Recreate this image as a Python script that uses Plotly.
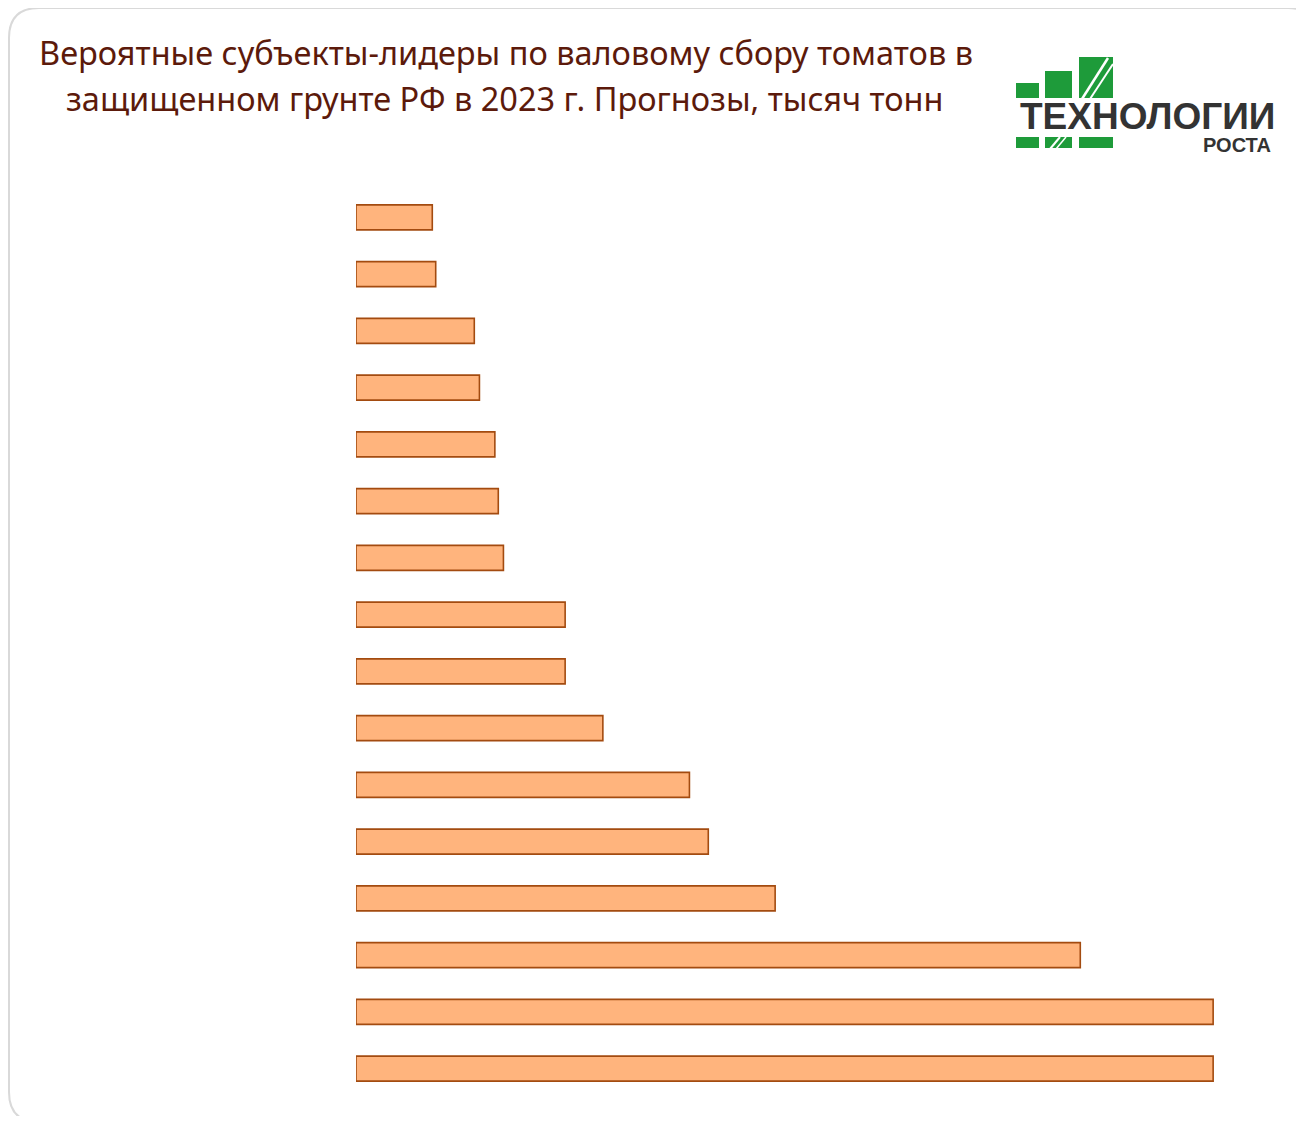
import plotly.graph_objects as go

# Data (regions are not labelled in the reference)
categories = [f"Субъект {i}" for i in range(1, 17)]
values = [8.9, 9.3, 13.8, 14.4, 16.2, 16.6, 17.2, 24.4, 24.4, 28.8, 38.9, 41.1, 48.9, 84.5, 100.0, 100.0]

title_line1 = "Вероятные субъекты-лидеры по валовому сбору томатов в"
title_line2 = "защищенном грунте РФ в 2023 г. Прогнозы, тысяч тонн"

OFF = 8  # page body margin
W, H = 1288, 1108
L, R, T, B = 356 - OFF, 40, 189 - OFF, 19
PW, PH = W - L - R, H - T - B


def px(x):
    return (x - OFF - L) / PW


def py(y):
    return (H - B - (y - OFF)) / PH


fig = go.Figure()
fig.add_trace(go.Bar(
    y=categories,
    x=values,
    orientation="h",
    marker=dict(color="#FFB47D", line=dict(color="#A34B10", width=1.6)),
    hoverinfo="x+y",
))

shapes = []
# rounded frame
x0, y0, x1, y1, r = 9, 8, 1318, 1122, 30
path = (
    f"M {px(x0 + r)},{py(y0)} L {px(x1 - r)},{py(y0)} "
    f"Q {px(x1)},{py(y0)} {px(x1)},{py(y0 + r)} "
    f"L {px(x1)},{py(y1 - r)} Q {px(x1)},{py(y1)} {px(x1 - r)},{py(y1)} "
    f"L {px(x0 + r)},{py(y1)} Q {px(x0)},{py(y1)} {px(x0)},{py(y1 - r)} "
    f"L {px(x0)},{py(y0 + r)} Q {px(x0)},{py(y0)} {px(x0 + r)},{py(y0)} Z"
)
shapes.append(dict(type="path", xref="paper", yref="paper", path=path,
                   line=dict(color="#D9D9D9", width=2), layer="below"))

green = "#1E9B3A"
logo_rects = [
    (1016, 83, 1039, 98),
    (1045, 71, 1072, 98),
    (1079, 57, 1113, 98),
    (1016, 137, 1039, 148),
    (1045, 137, 1072, 148),
    (1079, 137, 1113, 148),
]
for a, b_, c, d in logo_rects:
    shapes.append(dict(type="rect", xref="paper", yref="paper",
                       x0=px(a), x1=px(c), y0=py(d), y1=py(b_),
                       fillcolor=green, line=dict(width=0)))
# white diagonal stripes in logo
stripes = [
    ((1082, 99), (1108, 58), 2.5),
    ((1090, 99), (1113, 64), 2.0),
    ((1050, 149), (1060, 137), 2.0),
    ((1056, 149), (1066, 137), 1.5),
]
for (a, b_), (c, d), w in stripes:
    shapes.append(dict(type="line", xref="paper", yref="paper",
                       x0=px(a), y0=py(b_), x1=px(c), y1=py(d),
                       line=dict(color="white", width=w)))

annotations = [
    dict(text=title_line1, x=px(506), y=py(52), xref="paper", yref="paper",
         xanchor="center", yanchor="middle", showarrow=False,
         font=dict(family="Noto Sans", size=32.5, color="#5C1A0B")),
    dict(text=title_line2, x=px(505), y=py(98), xref="paper", yref="paper",
         xanchor="center", yanchor="middle", showarrow=False,
         font=dict(family="Noto Sans", size=32.5, color="#5C1A0B")),
    dict(text="<b>ТЕХНОЛОГИИ</b>", x=px(1147), y=py(116), xref="paper", yref="paper",
         xanchor="center", yanchor="middle", showarrow=False,
         font=dict(family="Liberation Sans", size=37, color="#333333")),
    dict(text="<b>РОСТА</b>", x=px(1273), y=py(145), xref="paper", yref="paper",
         xanchor="right", yanchor="middle", showarrow=False,
         font=dict(family="Liberation Sans", size=20, color="#333333")),
]

fig.update_layout(
    width=W, height=H,
    margin=dict(l=L, r=R, t=T, b=B),
    paper_bgcolor="white", plot_bgcolor="white",
    showlegend=False,
    bargap=0.56,
    shapes=shapes,
    annotations=annotations,
    xaxis=dict(range=[0, 105], visible=False, showgrid=False, zeroline=False),
    yaxis=dict(autorange="reversed", visible=False, showgrid=False),
)

fig.write_html("out.html")
